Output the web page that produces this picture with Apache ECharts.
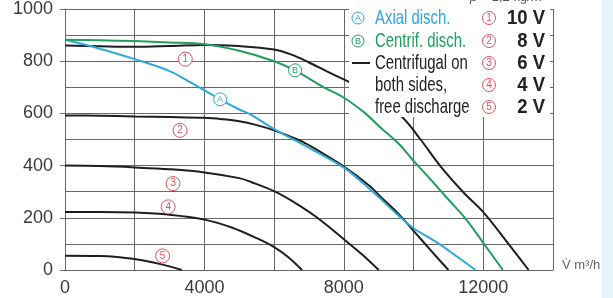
<!DOCTYPE html>
<html><head><meta charset="utf-8">
<script src="https://cdn.jsdelivr.net/npm/echarts@6/dist/echarts.min.js"></script>
<style>html,body{margin:0;padding:0;background:#fff}#c{width:613px;height:298px}</style>
</head><body><div id="c"></div>
<script>
// Flow [m³/h], pressure [Pa]
const curve10V = [[0,860],[1000,857],[2000,855],[3000,858],[4000,862],[5000,858],[6000,845],[6500,825],[7000,795],[7500,762],[8000,730],[8500,698],[9000,655],[9680,585],[10200,500],[10780,396],[11440,296],[12000,222],[12700,104],[13300,0]];
const curve8V = [[0,592],[1000,591],[2000,588],[3000,586],[4000,583],[4500,578],[5000,570],[5500,555],[6000,535],[6670,500],[7000,478],[8000,396],[8760,320],[9050,281],[9540,219],[10000,150],[10500,74],[11000,0]];
const curve6V = [[0,400],[1000,398],[2000,393],[3000,386],[4000,374],[5000,352],[5320,338],[6030,300],[6750,245],[7240,200],[8000,118],[8500,62],[9000,0]];
const curve4V = [[0,222],[1000,222],[2000,220],[3000,212],[4000,193],[4800,162],[5500,122],[6000,88],[6400,50],[6800,0]];
const curve2V = [[0,55],[1000,54],[1500,50],[2000,42],[2500,30],[3000,14],[3350,0]];
const axialDisch = [[0,882],[1000,848],[2000,808],[3000,762],[3600,719],[4450,654],[5000,615],[5320,596],[6000,540],[6670,492],[7000,468],[8000,392],[8760,308],[9540,212],[10000,160],[10690,104],[11260,50],[11780,0]];
const centrifDisch = [[0,882],[1000,880],[2000,877],[3000,872],[4000,865],[5000,840],[6000,800],[6600,765],[7400,702],[8000,660],[8600,602],[9000,552],[9600,480],[10000,418],[10500,345],[11000,270],[11500,195],[12000,104],[12560,0]];
const speedMarks = [[3450,808],[3300,535],[3100,331],[2960,242],[2800,54]];
const speedNames = ['1','2','3','4','5'];
const axialMark = [[4450,654]];
const centrifMark = [[6600,765]];
const xTicks = [0,4000,8000,12000];
const legendLeft = ['Axial disch.','Centrif. disch.','Centrifugal on','both sides,','free discharge'];
const legendRight = ['10 V','8 V','6 V','4 V','2 V'];

const FONT = '"Liberation Sans", Arial, sans-serif';
const BLACK = '#1e1e1e', CYAN = '#2ea7dc', GREEN = '#1f9f5c', RED = '#e2505f', GRID = '#686868';

const chart = echarts.init(document.getElementById('c'), null, {renderer:'canvas'});
function lineSeries(data, color, z){
  return {type:'line', data, smooth:0.35, symbol:'none', z, lineStyle:{color, width:2}, silent:true};
}
const rowsY = [18,41,63,85,107];
const graphic = [
  {type:'rect', z:0, shape:{x:602,y:0,width:11,height:298}, style:{fill:'#e6f4fa'}},
  {type:'rect', z:3, shape:{x:349,y:9,width:201,height:108}, style:{fill:'#fff'}},
  {type:'text', z:10, x:470, y:4, style:{text:'ρ = 1,2 kg/m³', fill:'#555', font:'italic 13px '+FONT, verticalAlign:'bottom'}},
  {type:'text', z:10, x:562, y:265, style:{text:'V̇ m³/h', fill:'#666', font:'13px '+FONT, verticalAlign:'middle'}},
  {type:'circle', z:10, shape:{cx:358,cy:rowsY[0],r:6}, style:{fill:'#fff', stroke:CYAN, lineWidth:1}},
  {type:'text', z:11, x:358, y:rowsY[0]+0.5, style:{text:'A', fill:CYAN, font:'9px '+FONT, align:'center', verticalAlign:'middle'}},
  {type:'circle', z:10, shape:{cx:358,cy:rowsY[1],r:6}, style:{fill:'#fff', stroke:GREEN, lineWidth:1}},
  {type:'text', z:11, x:358, y:rowsY[1]+0.5, style:{text:'B', fill:GREEN, font:'9px '+FONT, align:'center', verticalAlign:'middle'}},
  {type:'line', z:10, shape:{x1:352,y1:rowsY[2],x2:370,y2:rowsY[2]}, style:{stroke:BLACK, lineWidth:2}}
];
const leftColors = [CYAN, GREEN, '#222', '#222', '#222'];
legendLeft.forEach((t,i)=>{
  graphic.push({type:'text', z:10, x:375, y:rowsY[i], scaleX:0.71, style:{text:t, fill:leftColors[i], font:'21px '+FONT, verticalAlign:'middle'}});
});
legendRight.forEach((t,i)=>{
  graphic.push({type:'circle', z:10, shape:{cx:489,cy:rowsY[i],r:6.5}, style:{fill:'#fff', stroke:RED, lineWidth:1}});
  graphic.push({type:'text', z:11, x:489, y:rowsY[i]+0.5, style:{text:speedNames[i], fill:RED, font:'10px '+FONT, align:'center', verticalAlign:'middle'}});
  graphic.push({type:'text', z:10, x:545, y:rowsY[i], scaleX:0.88, style:{text:t, fill:'#222', font:'bold 21px '+FONT, align:'right', verticalAlign:'middle'}});
});

const option = {
  animation:false,
  backgroundColor:'#fff',
  grid:{left:65, right:60, top:8, bottom:28, containLabel:false},
  xAxis:{type:'value', min:0, max:14000, interval:2000,
    axisLine:{show:true, lineStyle:{color:GRID, width:1}},
    axisTick:{show:false},
    axisLabel:{margin:9, color:'#3a3a3a', fontSize:18, fontFamily:FONT,
      formatter:v=> xTicks.indexOf(v)>=0 ? String(v) : ''},
    splitLine:{show:true, lineStyle:{color:GRID, width:1}}},
  yAxis:{type:'value', min:0, max:1000, interval:200,
    axisLine:{show:true, lineStyle:{color:GRID, width:1}},
    axisTick:{show:true, length:5, lineStyle:{color:GRID}},
    axisLabel:{margin:12, color:'#3a3a3a', fontSize:18, fontFamily:FONT, formatter:v=>String(v)},
    splitLine:{show:true, lineStyle:{color:GRID, width:1}},
    minorTick:{show:false, splitNumber:2},
    minorSplitLine:{show:true, lineStyle:{color:GRID, width:1}}},
  graphic,
  series:[
    lineSeries(curve10V, BLACK, 2),
    lineSeries(curve8V, BLACK, 5),
    lineSeries(curve6V, BLACK, 5),
    lineSeries(curve4V, BLACK, 5),
    lineSeries(curve2V, BLACK, 5),
    lineSeries(axialDisch, CYAN, 6),
    lineSeries(centrifDisch, GREEN, 6),
    {type:'scatter', z:8, data:speedMarks, symbol:'circle', symbolSize:14,
      itemStyle:{color:'#fff', borderColor:RED, borderWidth:1, opacity:1},
      label:{show:true, position:'inside', color:RED, fontSize:10, fontFamily:FONT, formatter:p=>speedNames[p.dataIndex]}},
    {type:'scatter', z:8, data:axialMark, symbol:'circle', symbolSize:13,
      itemStyle:{color:'#fff', borderColor:CYAN, borderWidth:1, opacity:1},
      label:{show:true, position:'inside', color:CYAN, fontSize:9, fontFamily:FONT, formatter:'A'}},
    {type:'scatter', z:8, data:centrifMark, symbol:'circle', symbolSize:13,
      itemStyle:{color:'#fff', borderColor:GREEN, borderWidth:1, opacity:1},
      label:{show:true, position:'inside', color:GREEN, fontSize:9, fontFamily:FONT, formatter:'B'}}
  ]
};
chart.setOption(option);
</script></body></html>
